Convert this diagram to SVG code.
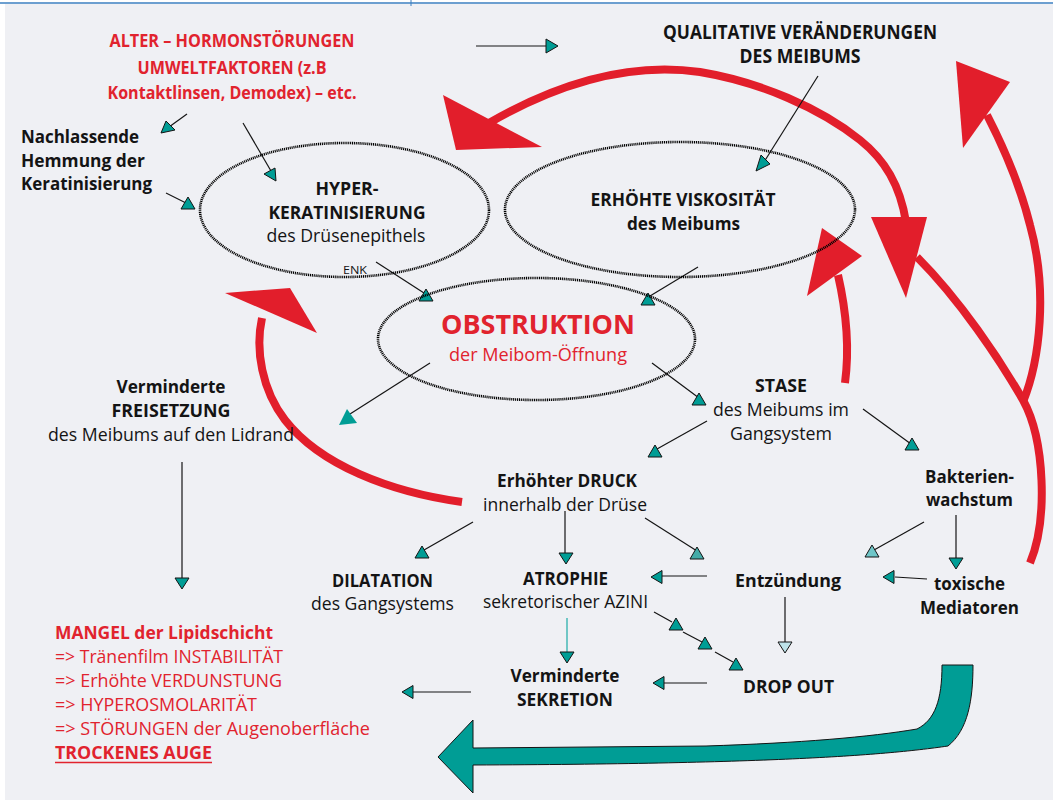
<svg xmlns="http://www.w3.org/2000/svg" xmlns:xlink="http://www.w3.org/1999/xlink" width="1053" height="800" viewBox="0 0 1053 800">
<style>
text{font-family:"Open Sans","Noto Sans","Liberation Sans",sans-serif;font-size:18px;fill:#141414}
.c{text-anchor:middle}
.b{font-weight:700}
.red{fill:#e1232e}
.big{font-size:26px}
.q{font-size:19px}
.sm{font-size:11.5px}
.ln{stroke:#141414;stroke-width:1.2;fill:none}
.tri{fill:#009d95;stroke:#141414;stroke-width:1}
.ell{fill:none;stroke:#000;stroke-width:2.6;stroke-dasharray:1.1 0.8}
.rd{fill:none;stroke:#e21e2b;stroke-width:8}
.rh{fill:#e21e2b}
</style>
<defs>
<path id="up" d="M0,0 L7,12 L-7,12 Z"/>
<path id="dn" d="M0,0 L-7,-11 L7,-11 Z"/>
<path id="lf" d="M0,0 L11,-6.5 L11,6.5 Z"/>
<path id="rt" d="M0,0 L-12,-7 L-12,7 Z"/>
</defs>
<rect x="0" y="0" width="1053" height="800" fill="#ffffff"/>
<rect x="5" y="4" width="1048" height="796" fill="#eff0f4"/>
<line x1="0" y1="3" x2="1053" y2="3" stroke="#3b7fc0" stroke-width="1.6"/>
<line x1="411" y1="0" x2="411" y2="6" stroke="#3b7fc0" stroke-width="1"/>

<g id="connectors">
<!-- red feedback arrows -->
<path class="rd" d="M906,222 C900,185 885,160 860,140 C820,108 760,82 700,72 C630,62 560,82 489,123"/>
<polygon class="rh" points="443,95 542,147 456,150"/>
<path class="rd" d="M1030,563 C1048,520 1045,440 1023,400 C1000,360 960,300 917,257"/>
<path class="rd" d="M1023,402 C1040,360 1048,290 1030,225 C1020,185 1005,150 987,115"/>
<polygon class="rh" points="956,61 1010,82 963,148"/>
<polygon class="rh" points="871,217 927,217 906,298"/>
<path class="rd" d="M845,383 C850,345 846,310 838,275"/>
<polygon class="rh" points="822,228 862,256 807,296"/>
<path class="rd" d="M462,502 C390,492 320,465 285,420 C262,390 255,350 262,318"/>
<polygon class="rh" points="225,293 290,288 317,333"/>

<!-- big teal arrow -->
<path d="M942,665 L973,665 C973,700 968,730 948,746 C880,756 760,764 473,765 L473,793 L438,757 L473,720 L473,748 L706,746 C800,743 870,737 917,729 C935,720 942,700 942,665 Z" fill="#009d95" stroke="#141414" stroke-width="1"/>

<!-- small arrows -->
<line class="ln" x1="476" y1="46" x2="546" y2="46"/><use href="#rt" x="558" y="46" class="tri"/>
<line class="ln" x1="187" y1="114" x2="169" y2="127"/><polygon class="tri" points="161,133 175,130 166,121"/>
<line class="ln" x1="243" y1="123" x2="271" y2="171"/><polygon class="tri" points="276,181 264,174 275,168"/>
<line class="ln" x1="166" y1="193" x2="188" y2="204"/><use href="#up" x="188" y="197" class="tri"/>
<line class="ln" x1="818" y1="76" x2="764" y2="162"/><polygon class="tri" points="756,171 770,164 761,155"/>
<line class="ln" x1="376" y1="262" x2="424" y2="293"/><use href="#up" x="426" y="289" class="tri"/>
<line class="ln" x1="698" y1="267" x2="650" y2="296"/><use href="#up" x="648" y="293" class="tri"/>
<line class="ln" x1="430" y1="363" x2="350" y2="414"/><polygon points="339,425 357,423 347,409" fill="#009d95"/>
<line class="ln" x1="652" y1="363" x2="699" y2="398"/><use href="#up" x="699" y="393" class="tri"/>
<line class="ln" x1="707" y1="421" x2="657" y2="449"/><use href="#up" x="655" y="445" class="tri"/>
<line class="ln" x1="863" y1="409" x2="911" y2="444"/><use href="#up" x="912" y="438" class="tri"/>
<line class="ln" x1="924" y1="522" x2="874" y2="550"/><use href="#up" x="872" y="545" class="tri" style="fill:#6fc6c8"/>
<line class="ln" x1="956" y1="515" x2="956" y2="559"/><use href="#dn" x="956" y="569" class="tri"/>
<line class="ln" x1="927" y1="579" x2="895" y2="577"/><use href="#lf" x="883" y="577" class="tri"/>
<line class="ln" x1="645" y1="518" x2="697" y2="551"/><use href="#up" x="697" y="547" class="tri" style="fill:#44aca8"/>
<line class="ln" x1="707" y1="576" x2="662" y2="576"/><use href="#lf" x="651" y="577" class="tri"/>
<line class="ln" x1="473" y1="522" x2="424" y2="550"/><use href="#up" x="422" y="546" class="tri"/>
<line class="ln" x1="565" y1="511" x2="565" y2="554"/><use href="#dn" x="566" y="564" class="tri"/>
<line x1="567" y1="618" x2="567" y2="653" stroke="#2bb0ad" stroke-width="1.3"/><use href="#dn" x="567" y="663" class="tri"/>
<line class="ln" x1="654" y1="612" x2="672" y2="622"/><use href="#up" x="676" y="618" class="tri"/>
<line class="ln" x1="683" y1="632" x2="702" y2="642"/><use href="#up" x="705" y="637" class="tri"/>
<line class="ln" x1="715" y1="652" x2="733" y2="662"/><use href="#up" x="736" y="658" class="tri"/>
<line class="ln" x1="785" y1="597" x2="785" y2="642"/><use href="#dn" x="785" y="653" class="tri" style="fill:#bde3ea"/>
<line class="ln" x1="707" y1="683" x2="663" y2="683"/><use href="#lf" x="653" y="683" class="tri"/>
<line class="ln" x1="471" y1="692" x2="413" y2="692"/><use href="#lf" x="402" y="692" class="tri"/>
<line class="ln" x1="182" y1="462" x2="182" y2="578"/><use href="#dn" x="182" y="589" class="tri"/>
</g>

<g id="causes">
<text class="c b red" x="232" y="47" textLength="245" lengthAdjust="spacingAndGlyphs">ALTER – HORMONSTÖRUNGEN</text>
<text class="c b red" x="232" y="74" textLength="189" lengthAdjust="spacingAndGlyphs">UMWELTFAKTOREN (z.B</text>
<text class="c b red" x="232" y="99" textLength="249" lengthAdjust="spacingAndGlyphs">Kontaktlinsen, Demodex) – etc.</text>
</g>
<g id="nachlassende">
<text class="b" x="21" y="143" textLength="118" lengthAdjust="spacingAndGlyphs">Nachlassende</text>
<text class="b" x="21" y="167" textLength="124" lengthAdjust="spacingAndGlyphs">Hemmung der</text>
<text class="b" x="21" y="190" textLength="131" lengthAdjust="spacingAndGlyphs">Keratinisierung</text>
</g>
<g id="qualitative">
<text class="c b q" x="800" y="39" textLength="274" lengthAdjust="spacingAndGlyphs">QUALITATIVE VERÄNDERUNGEN</text>
<text class="c b q" x="800" y="63" textLength="121" lengthAdjust="spacingAndGlyphs">DES MEIBUMS</text>
</g>
<g id="hyperkeratinisierung">
<ellipse class="ell" cx="344.5" cy="210" rx="144.5" ry="67"/>
<text class="c b" x="347" y="195" textLength="63" lengthAdjust="spacingAndGlyphs">HYPER-</text>
<text class="c b" x="347" y="219" textLength="157" lengthAdjust="spacingAndGlyphs">KERATINISIERUNG</text>
<text class="c" x="346" y="242" textLength="159" lengthAdjust="spacingAndGlyphs">des Drüsenepithels</text>
<text class="sm" x="343" y="274" textLength="24" lengthAdjust="spacingAndGlyphs">ENK</text>
</g>
<g id="viskositaet">
<ellipse class="ell" cx="680" cy="209.5" rx="175" ry="67.5"/>
<text class="c b" x="683" y="206" textLength="185" lengthAdjust="spacingAndGlyphs">ERHÖHTE VISKOSITÄT</text>
<text class="c b" x="683.5" y="230" textLength="113" lengthAdjust="spacingAndGlyphs">des Meibums</text>
</g>
<g id="obstruktion">
<ellipse class="ell" cx="536.5" cy="339" rx="158.5" ry="61"/>
<text class="c b red big" x="538" y="334" textLength="194" lengthAdjust="spacingAndGlyphs">OBSTRUKTION</text>
<text class="c red" x="538" y="361" textLength="178" lengthAdjust="spacingAndGlyphs">der Meibom-Öffnung</text>
</g>
<g id="freisetzung">
<text class="c b" x="171" y="393" textLength="109" lengthAdjust="spacingAndGlyphs">Verminderte</text>
<text class="c b" x="171" y="417" textLength="119" lengthAdjust="spacingAndGlyphs">FREISETZUNG</text>
<text class="c" x="171" y="441" textLength="246" lengthAdjust="spacingAndGlyphs">des Meibums auf den Lidrand</text>
</g>
<g id="stase">
<text class="c b" x="781" y="392" textLength="52" lengthAdjust="spacingAndGlyphs">STASE</text>
<text class="c" x="781" y="416" textLength="136" lengthAdjust="spacingAndGlyphs">des Meibums im</text>
<text class="c" x="781" y="440" textLength="102" lengthAdjust="spacingAndGlyphs">Gangsystem</text>
</g>
<g id="bakterien">
<text class="c b" x="969.5" y="483" textLength="89" lengthAdjust="spacingAndGlyphs">Bakterien-</text>
<text class="c b" x="969.5" y="506" textLength="87" lengthAdjust="spacingAndGlyphs">wachstum</text>
</g>
<g id="druck">
<text class="c b" x="567" y="487" textLength="140" lengthAdjust="spacingAndGlyphs">Erhöhter DRUCK</text>
<text class="c" x="565" y="511" textLength="164" lengthAdjust="spacingAndGlyphs">innerhalb der Drüse</text>
</g>
<g id="dilatation">
<text class="c b" x="382.5" y="587" textLength="101" lengthAdjust="spacingAndGlyphs">DILATATION</text>
<text class="c" x="382.5" y="610" textLength="143" lengthAdjust="spacingAndGlyphs">des Gangsystems</text>
</g>
<g id="atrophie">
<text class="c b" x="565.5" y="585" textLength="85" lengthAdjust="spacingAndGlyphs">ATROPHIE</text>
<text class="c" x="565.5" y="608" textLength="165" lengthAdjust="spacingAndGlyphs">sekretorischer AZINI</text>
</g>
<g id="entzuendung">
<text class="c b" x="788" y="587" textLength="106" lengthAdjust="spacingAndGlyphs">Entzündung</text>
</g>
<g id="toxische">
<text class="c b" x="969.5" y="590" textLength="71" lengthAdjust="spacingAndGlyphs">toxische</text>
<text class="c b" x="969.5" y="614" textLength="99" lengthAdjust="spacingAndGlyphs">Mediatoren</text>
</g>
<g id="sekretion">
<text class="c b" x="565" y="682" textLength="109" lengthAdjust="spacingAndGlyphs">Verminderte</text>
<text class="c b" x="565" y="706" textLength="96" lengthAdjust="spacingAndGlyphs">SEKRETION</text>
</g>
<g id="dropout">
<text class="c b" x="788.5" y="693" textLength="91" lengthAdjust="spacingAndGlyphs">DROP OUT</text>
</g>
<g id="mangel">
<text class="b red" x="55" y="639" textLength="218" lengthAdjust="spacingAndGlyphs">MANGEL der Lipidschicht</text>
<text class="red" x="55" y="663" textLength="228" lengthAdjust="spacingAndGlyphs">=&gt; Tränenfilm INSTABILITÄT</text>
<text class="red" x="55" y="687" textLength="227" lengthAdjust="spacingAndGlyphs">=&gt; Erhöhte VERDUNSTUNG</text>
<text class="red" x="55" y="711" textLength="202" lengthAdjust="spacingAndGlyphs">=&gt; HYPEROSMOLARITÄT</text>
<text class="red" x="55" y="735" textLength="315" lengthAdjust="spacingAndGlyphs">=&gt; STÖRUNGEN der Augenoberfläche</text>
<text class="b red" x="55" y="759" textLength="157" lengthAdjust="spacingAndGlyphs">TROCKENES AUGE</text>
<line x1="55" y1="762.5" x2="212" y2="762.5" stroke="#e1232e" stroke-width="1.4"/>
</g>
</svg>
